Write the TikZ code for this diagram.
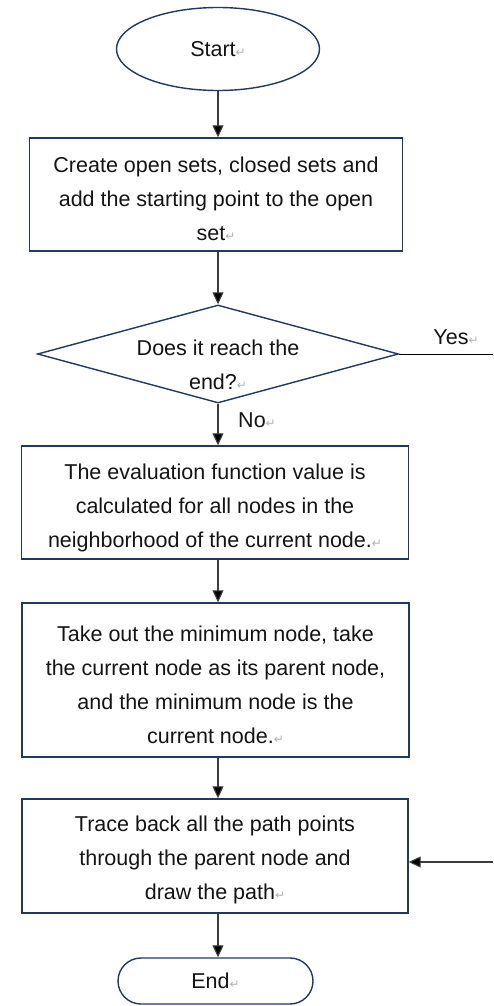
\documentclass[tikz,border=0pt]{standalone}
\usepackage{fontspec}
\setmainfont{Liberation Sans}
\newfontfamily\dvfont{DejaVu Sans}
\usetikzlibrary{shapes.geometric,shapes.misc,arrows.meta}
\definecolor{navy}{RGB}{32,56,100}
\definecolor{txt}{RGB}{20,20,20}
\definecolor{conn}{RGB}{60,60,60}
\newcommand\pmk{{\dvfont\fontsize{12}{12}\selectfont\color{black!30}↵}}
\newcommand\topgap{\rule{0pt}{25pt}}
\begin{document}
\begin{tikzpicture}[x=1pt,y=-1pt,
  shapeline/.style={draw=navy, line width=1.4pt},
  txtfont/.style={text=txt, font=\fontsize{21.5}{34}\selectfont},
  stepbox/.style={shapeline, rectangle, inner sep=0pt, align=center, txtfont},
  terminal/.style={shapeline, inner sep=0pt, align=center, txtfont},
  lbl/.style={inner sep=0pt, align=center, txtfont},
  flow/.style={draw=conn, line width=1.1pt, -{Triangle[length=12pt,width=11pt,fill=black]}},
  plain/.style={draw=black, line width=0.9pt}
]
\useasboundingbox (0,0) rectangle (493,1006);

\node[terminal, ellipse, minimum width=203pt, minimum height=83pt] (start) at (218,49) {Start\pmk};

\node[stepbox, minimum width=373pt, minimum height=113pt] (b1) at (216,194.5)
  {\topgap Create open sets, closed sets and\\add the starting point to the open\\set\pmk};

\node[shapeline, diamond, minimum width=361pt, minimum height=98pt, inner sep=0pt] (dec) at (218,354) {};
\node[lbl] (dectext) at (218,365) {Does it reach the\\end?\pmk};

\node[stepbox, minimum width=387pt, minimum height=113pt] (b2) at (215,502.5)
  {\rule{0pt}{27pt}The evaluation function value is\\calculated for all nodes in the\\neighborhood of the current node.\pmk};

\node[stepbox, minimum width=387pt, minimum height=154pt] (b3) at (215.5,680)
  {\topgap Take out the minimum node, take\\the current node as its parent node,\\and the minimum node is the\\current node.\pmk};

\node[stepbox, minimum width=386pt, minimum height=114pt] (b4) at (215,856)
  {\rule{0pt}{23pt}Trace back all the path points\\through the parent node and\\draw the path\pmk};

\node[terminal, rounded rectangle, minimum width=195pt, minimum height=46pt] (end) at (215.5,981) {End\pmk};

\node[lbl] (yes) at (456,337) {Yes\pmk};
\node[lbl] (no) at (257,420) {No\pmk};

\coordinate (yesend) at (493,354);
\coordinate (retin) at (493,862);

\draw[flow] (start.south) -- (start.south |- b1.north);
\draw[flow] (start.south |- b1.south) -- (dec.north);
\draw[flow] (dec.south) -- (dec.south |- b2.north);
\draw[flow] (dec.south |- b2.south) -- (dec.south |- b3.north);
\draw[flow] (dec.south |- b3.south) -- (dec.south |- b4.north);
\draw[flow] (dec.south |- b4.south) -- (dec.south |- end.north);
\draw[plain] (dec.east) -- (yesend);
\draw[flow] (retin) -- (retin -| b4.east);
\end{tikzpicture}
\end{document}
